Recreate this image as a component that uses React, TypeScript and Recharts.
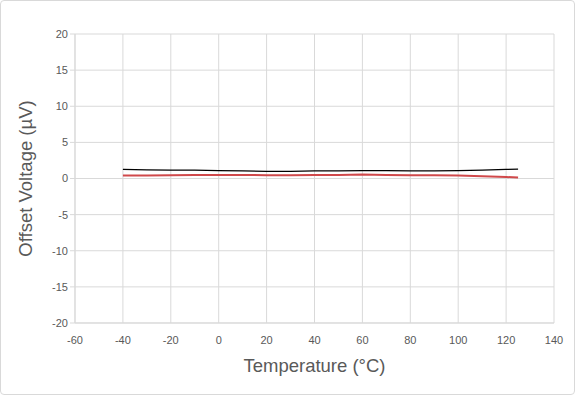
import { LineChart, Line, XAxis, YAxis, CartesianGrid, Label } from "recharts"

const temps = [-40, -30, -20, -10, 0, 10, 20, 30, 40, 50, 60, 70, 80, 90, 100, 110, 120, 125]
const offsetBlack = [1.25, 1.2, 1.15, 1.15, 1.1, 1.05, 1.0, 1.0, 1.05, 1.05, 1.1, 1.1, 1.05, 1.05, 1.1, 1.15, 1.25, 1.3]
const offsetRed = [0.4, 0.4, 0.45, 0.5, 0.5, 0.5, 0.45, 0.45, 0.5, 0.5, 0.55, 0.5, 0.45, 0.45, 0.4, 0.3, 0.2, 0.15]
const xTicks = [-60, -40, -20, 0, 20, 40, 60, 80, 100, 120, 140]
const yTicks = [-20, -15, -10, -5, 0, 5, 10, 15, 20]

const data = temps.map((t, i) => ({ t, black: offsetBlack[i], red: offsetRed[i] }))

const font = "Liberation Sans, Arial, sans-serif"
const tickStyle = { fontSize: 11, fill: "#595959", fontFamily: font }
const titleStyle = { fontSize: 18.5, fill: "#595959", fontFamily: font }

export default function App() {
  return (
    <div
      style={{
        position: "fixed",
        left: 0,
        top: 0,
        width: 573,
        height: 393,
        border: "1px solid #d9d9d9",
        borderRadius: 4,
        background: "#fff",
      }}
    >
      <LineChart width={573} height={393} data={data} margin={{ top: 33, right: 20, left: 0, bottom: 41 }}>
        <CartesianGrid stroke="#d9d9d9" />
        <XAxis
          dataKey="t"
          type="number"
          domain={[-60, 140]}
          ticks={xTicks}
          tick={tickStyle}
          stroke="#595959"
          tickLine={false}
          axisLine={{ stroke: "#d9d9d9" }}
          tickMargin={7}
          height={30}
          interval={0}
        >
          <Label value="Temperature (°C)" position="bottom" offset={6} style={titleStyle} />
        </XAxis>
        <YAxis
          type="number"
          domain={[-20, 20]}
          ticks={yTicks}
          tick={tickStyle}
          stroke="#595959"
          tickLine={{ stroke: "#d9d9d9" }}
          tickSize={5}
          axisLine={{ stroke: "#d9d9d9" }}
          width={74}
          interval={0}
        >
          <Label value="Offset Voltage (µV)" angle={-90} position="insideLeft" offset={24} style={{ ...titleStyle, textAnchor: "middle" }} />
        </YAxis>
        <Line dataKey="black" stroke="#000" strokeWidth={1.3} dot={false} isAnimationActive={false} />
        <Line dataKey="red" stroke="#d0494b" strokeWidth={2} dot={false} isAnimationActive={false} />
      </LineChart>
    </div>
  )
}
